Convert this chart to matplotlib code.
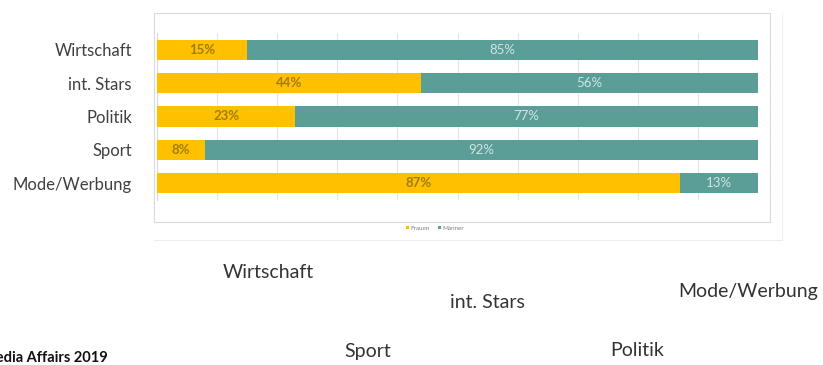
import matplotlib
matplotlib.use("Agg")
import matplotlib.pyplot as plt
from matplotlib.patches import Rectangle
from matplotlib.lines import Line2D

categories = ["Wirtschaft", "int. Stars", "Politik", "Sport", "Mode/Werbung"]
frauen = [15, 44, 23, 8, 87]
maenner = [85, 56, 77, 92, 13]
series_names = ["Frauen", "Männer"]
scattered_labels = ["Wirtschaft", "int. Stars", "Mode/Werbung", "Sport", "Politik"]
source_text = "Media Affairs 2019"

plt.rcParams['font.family'] = ['Lato', 'DejaVu Sans']

W, H = 823, 365
fig = plt.figure(figsize=(W / 100, H / 100), dpi=100)

def fx(px):
    return px / W

def fy(py):
    return 1 - py / H

# chart frame (slide-chart border)
fig.add_artist(Rectangle((fx(154), fy(222)), fx(770) - fx(154), fy(13) - fy(222),
                         transform=fig.transFigure, fill=False, ec="#d9d9d9", lw=0.8))
fig.add_artist(Line2D([fx(154), fx(782)], [fy(240), fy(240)], transform=fig.transFigure,
                      color="#ededed", lw=0.8))
fig.add_artist(Line2D([fx(782), fx(782)], [fy(13), fy(240)], transform=fig.transFigure,
                      color="#f2f2f2", lw=0.8))

ax = fig.add_axes([fx(157), fy(200), fx(758) - fx(157), fy(33) - fy(200)])
yellow = "#FFC000"
teal = "#5A9E97"
y = list(range(len(categories)))
ax.barh(y, frauen, height=0.6, color=yellow, label=series_names[0], zorder=3)
ax.barh(y, maenner, left=frauen, height=0.6, color=teal, label=series_names[1], zorder=3)

for i in y:
    ax.text(frauen[i] / 2, i, f"{frauen[i]}%", ha="center", va="center",
            fontsize=9.5, color="#A07D10", fontweight="bold", zorder=4)
    ax.text(frauen[i] + maenner[i] / 2, i, f"{maenner[i]}%", ha="center", va="center",
            fontsize=9.5, color="#CFE6E2", zorder=4)

ax.set_xlim(0, 100)
ax.set_ylim(len(categories) - 0.5, -0.5)
ax.set_xticks(range(0, 101, 10))
ax.set_xticklabels([])
ax.tick_params(axis="x", length=0)
ax.tick_params(axis="y", length=0, pad=18, labelsize=12, labelcolor="#404040")
ax.set_yticks(y)
ax.set_yticklabels(categories)
ax.grid(axis="x", color="#e6e6e6", lw=0.8, zorder=0)
for s in ["top", "right", "bottom"]:
    ax.spines[s].set_visible(False)
ax.spines["left"].set_color("#d9d9d9")
ax.spines["left"].set_linewidth(0.8)

leg = fig.legend(loc="center", bbox_to_anchor=(fx(435), fy(228)), ncol=2, frameon=False,
                 fontsize=4.5, handlelength=0.5, handleheight=0.5, columnspacing=1.2,
                 handletextpad=0.3)
for t in leg.get_texts():
    t.set_color("#7f7f7f")

pos = [(268, 272), (487, 303), (748, 292), (368, 351), (637, 350)]
for lbl, (px, py) in zip(scattered_labels, pos):
    fig.text(fx(px), fy(py), lbl, ha="center", va="center", fontsize=14, color="#333333")

fig.text(fx(108), fy(358), source_text, ha="right", va="center", fontsize=10.5,
         fontweight="bold", color="#111111")

fig.savefig("out.png", dpi=100)
